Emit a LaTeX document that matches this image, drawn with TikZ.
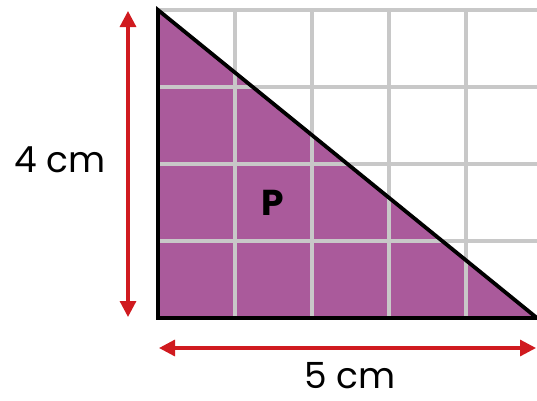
\documentclass[tikz,border=0pt]{standalone}
\usepackage{fontspec}
\setmainfont{Poppins}
\usetikzlibrary{arrows.meta}
\definecolor{trifill}{HTML}{AA5A9B}
\definecolor{gridgrey}{HTML}{C8C8C8}
\definecolor{arrowred}{HTML}{D01A1F}
\begin{document}
\begin{tikzpicture}[x=1pt,y=-1pt,
dimarrow/.style={arrowred,line width=3.2pt,{Triangle[length=16pt,width=16pt]}-{Triangle[length=16pt,width=16pt]},shorten <=1pt,shorten >=1pt},
dimlabel/.style={font=\fontsize{36}{42}\selectfont,inner sep=0pt}]
\useasboundingbox (0,0) rectangle (537,400);
\coordinate (top) at (158,10);
\coordinate (corner) at (158,318);
\coordinate (right) at (537,318);
% shaded half of the grid
\fill[trifill] (top)--(corner)--(right)--cycle;
\foreach \gx in {235,312,389,466}{\draw[gridgrey,line width=3.2pt] (\gx,10)--(\gx,318);}
\foreach \gy in {10,87,164,241}{\draw[gridgrey,line width=3.2pt] (158,\gy)--(537,\gy);}
\draw[black,line width=3.8pt,line join=miter] (top)--(corner)--(right)--cycle;
\node[font=\fontsize{36}{42}\selectfont\bfseries] (p) at (273,203) {P};
% dimensions
\coordinate (vtop) at (128,10);
\coordinate (vbot) at (128,318);
\coordinate (hleft) at (158,348);
\coordinate (hright) at (537,348);
\draw[dimarrow] (vtop)--(vbot);
\draw[dimarrow] (hleft)--(hright);
\node[dimlabel] (h) at (60,160) {4 cm};
\node[dimlabel] (w) at (350,376) {5 cm};
\end{tikzpicture}
\end{document}
